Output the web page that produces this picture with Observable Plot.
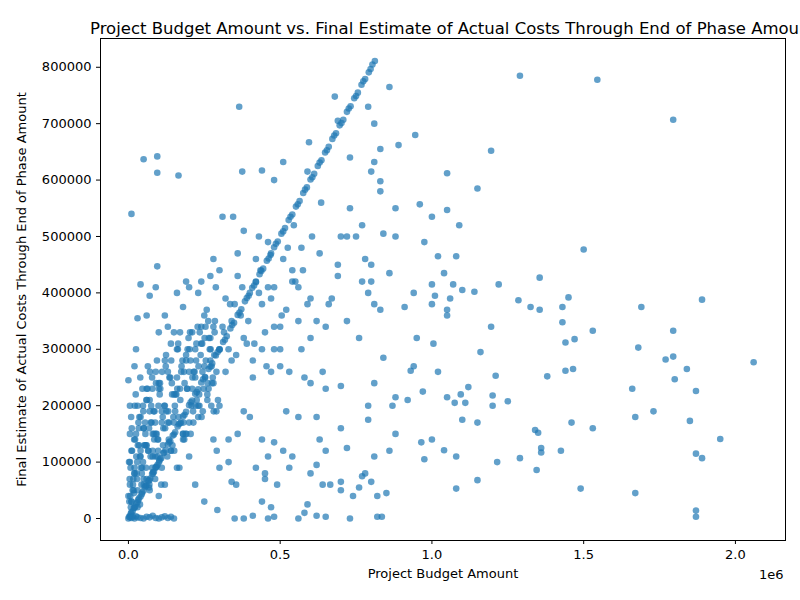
<!DOCTYPE html>
<html>
<head>
<meta charset="utf-8">
<script src="https://cdn.jsdelivr.net/npm/d3@7"></script>
<script src="https://cdn.jsdelivr.net/npm/@observablehq/plot@0.6"></script>
<style>body{margin:0;background:#fff;font-family:"DejaVu Sans";}</style>
</head>
<body>
<div id="chart"></div>
<script>
// values in thousands
var diagBudget = [2,6,10,14,18,22,26,30,35,40,45,50,55,60,66,72,78,84,90,96,102,108,115,122,130,138,146,154,162,170,180,190,200,210,220,230,240,252,264,276,288,300,312,324,336,348,360,372,384,396,408,420,432,444,456,468,480,492,504,516,528,540,552,564,576,588,600,612,624,636,648,660,672,684,696,708,720,732,744,756,768,780,792,804,812,
  8,20,32,44,57,69,81,93,105,118,134,150,166,185,205,225,246,270,294,318,342,366,390,414,438,462,486,510,534,558,582,606,630,654,678,702,726,750,774,798]
var diagActual = [3,5,11,13,19,21,27,29,36,39,46,49,56,59,67,71,79,83,91,95,103,107,116,121,131,137,147,153,163,169,181,189,201,209,221,229,241,251,265,275,289,299,313,323,337,347,361,371,385,395,409,419,433,443,457,467,481,491,505,515,529,539,553,563,577,587,601,611,625,635,649,659,673,683,697,707,721,731,745,755,769,779,791,805,811,
  9,19,33,43,58,68,82,92,106,117,135,149,167,184,206,224,247,269,295,317,343,365,391,413,439,461,487,509,535,557,583,605,631,653,679,701,727,749,775,797]

var spreadBudget = [10,50,95,95,165,365,375,310,345,440,480,510,595,590,680,690,730,790,810,830,860,890,945,960,1000,1050,1050,1090,1150,1195,1290,1545,1795,1500,1355,1220,1285,1325,1355,1450,1430,1430,1530,1470,1440,1680,1690,1795,1890,1840,1795,1770,1660,1800,1730,1870,1850,1950,2060,1890,1870,1870,1870,1670,1670,1530,1490,1460,1465,1440,1380,1360,1360,1340,1350,1345,1425,1290,1215,1160,1120,1110,1095,1075,1080,1080,1150,1150,1210,1200,1200,1250,1195,1140,1100,1080,1070,1050,1040,1020,1000,1010,1000,975,940,950,940,930,970,975,965,1000,1005,1050,1040,1020,1050,1060,1100,880,920,870,880,860,850,820,820,835,880,880,910,860,830,830,840,800,810,770,750,730,780,790,800,800,810,770,760,830,840,810,790,790,810,780,770,800,760,740,730,700,700,720,700,700,690,670,720,700,720,690,660,650,640,650,620,630,650,620,640,620,650,600,590,560,580,600,600,580,570,560,550,540,560,540,530,520,510,490,480,460,470,440,450,420,380,410,350,355,340,330,330,360,380,400,410,440,450,460,480,470,480,500,500,520,440,420,430,460,470,380,360,300,280,270,240,200,180,150,130,120,100,90,95,70,40,30,20,25,0,5,60,160,190,230,
  0,5,10,15,20,25,30,40,50,60,70,80,90,100,110,120,130,140,150,0,5,10,20,30,40,50,60,70,80,90,100,110,120,140,160,180,200,220,250,280,300,
  5,10,20,30,40,50,60,70,80,90,100,110,120,130,140,150,160,170,180,190,200,210,220,230,240,250,260,270,280,290,300,320,340,
  5,15,25,35,45,55,65,75,85,95,105,115,125,135,145,155,165,175,185,195,205,215,225,235,245,255,265,275,285,295,310,330,350,370,390,410,430,450,470,500,530,560,590,620,
  10,20,30,40,50,60,70,80,90,100,110,120,130,140,150,160,170,180,190,200,210,220,230,240,250,260,270,280,290,300,320,340,360,380,400,420,440,460,480,510,540,570,600,630,
  8,18,28,38,48,58,68,78,88,98,108,118,128,138,148,158,168,178,188,198,208,218,228,238,248,258,268,278,288,300,315,335,355,375,395,415,435,455,480,505,525,545,575,605,635,665,
  3,7,12,17,22,27,33,38,43,48,53,58,63,68,73,78,83,88,93,98,103,113,123,133,143,153,163,173,183,193,203,213,223,233,243,253,263,273,283,293,
  2,6,11,16,21,26,31,36,41,46,51,56,61,66,71,76,81,86,91,96,101,111,121,131,141,151,161,171,181,191,201,211,221,231,241,251,261,271,281,291,
  4,9,14,19,24,29,34,39,44,49,54,59,64,69,74,79,84,89,94,99,104,114,124,134,144,154,164,174,184,194,204,214,224,234,244,254,264,274,284,294]
var spreadActual = [540,637,642,613,608,730,615,535,535,617,600,632,667,615,748,705,640,730,700,655,765,662,680,557,535,547,612,520,585,652,785,778,707,477,427,415,387,375,370,392,375,348,333,318,312,303,375,333,388,265,287,282,230,247,190,226,173,141,277,107,115,14,3,45,180,160,53,170,265,262,252,125,117,157,152,86,120,107,100,295,233,205,220,205,110,53,170,68,253,218,200,208,340,402,405,465,415,360,435,465,380,395,415,490,400,320,270,262,225,105,135,140,310,215,121,260,370,390,175,215,210,200,150,120,45,40,3,3,550,500,375,435,580,598,505,615,632,520,500,550,460,400,450,420,380,420,320,370,285,240,200,175,110,80,75,65,55,40,0,235,160,125,50,65,450,390,350,500,500,430,380,340,260,230,180,140,120,95,60,5,3,80,25,0,10,320,240,250,300,350,420,440,180,110,90,190,120,60,3,0,20,30,70,90,0,5,0,60,65,100,140,150,190,180,250,140,80,110,135,260,300,270,340,370,380,420,500,490,470,510,470,440,460,430,420,410,375,330,340,360,330,410,447,395,415,355,270,300,245,200,360,400,420,400,
  0,2,1,3,0,4,2,1,0,3,2,5,1,0,2,4,1,3,0,40,60,30,80,20,110,70,130,50,150,90,40,170,60,120,90,150,110,60,30,140,90,
  150,120,90,200,180,160,230,210,120,260,240,190,280,170,310,220,250,330,150,290,260,230,300,180,340,270,210,320,240,190,300,260,280,
  100,60,150,130,90,170,120,200,140,110,230,160,190,250,130,220,180,270,240,300,150,260,210,330,190,280,320,240,350,210,340,300,380,360,310,280,400,330,390,300,260,410,380,350,
  30,80,50,120,160,70,190,110,150,230,90,200,260,120,170,300,230,140,280,170,330,250,200,310,360,220,280,340,260,300,390,350,430,320,400,460,300,410,340,460,420,480,390,470,
  20,45,70,25,100,130,55,90,170,140,60,200,110,250,180,220,90,280,150,320,200,260,340,290,230,370,300,250,410,200,330,380,290,410,350,310,440,270,410,360,480,520,440,500,560,
  60,30,90,120,50,140,80,170,110,60,200,130,90,230,160,110,250,190,70,150,120,220,180,270,140,240,200,300,170,260,230,330,190,280,220,310,250,350,200,290,
  15,100,40,160,70,200,110,130,180,90,230,60,150,210,120,260,170,80,190,240,140,100,260,160,190,280,120,230,210,170,150,300,250,200,270,180,320,240,300,190,
  120,70,180,50,140,220,100,160,250,80,190,130,210,270,60,170,230,150,110,280,200,240,130,290,170,220,190,310,260,140,230,280,170,310,200,260,340,230,270,330]

var diag = diagBudget.map((b, i) => ({budget: b * 1000, actual: diagActual[i] * 1000}))
var spread = spreadBudget.map((b, i) => ({budget: b * 1000, actual: spreadActual[i] * 1000}))
var all = diag.concat(spread)

var xTicks = [0, 500000, 1000000, 1500000, 2000000]
var yTicks = [0, 100000, 200000, 300000, 400000, 500000, 600000, 700000, 800000]

var chart = Plot.plot({
  width: 800,
  height: 600,
  marginLeft: 100,
  marginRight: 15,
  marginTop: 38,
  marginBottom: 60,
  style: {fontFamily: "DejaVu Sans", fontSize: "13px", background: "#fff"},
  x: {domain: [-92000, 2165000]},
  y: {domain: [-39000, 851000]},
  marks: [
    Plot.frame({stroke: "#000"}),
    Plot.dot(all, {x: "budget", y: "actual", r: 3.3, fill: "#1f77b4", fillOpacity: 0.7, stroke: "none"}),
    Plot.axisX({ticks: xTicks, tickFormat: d => (d / 1e6).toFixed(1), tickSize: 4, label: null, fontSize: 13}),
    Plot.axisY({ticks: yTicks, tickFormat: d => String(d), tickSize: 4, label: null, fontSize: 13}),
    Plot.text(["Project Budget Amount vs. Final Estimate of Actual Costs Through End of Phase Amount"],
      {frameAnchor: "top", dy: -16, dx: 10, fontSize: 16.5, fill: "#000"}),
    Plot.text(["Project Budget Amount"], {frameAnchor: "bottom", dy: 37, fontSize: 13, fill: "#000"}),
    Plot.text(["Final Estimate of Actual Costs Through End of Phase Amount"],
      {frameAnchor: "left", dx: -79, rotate: -90, textAnchor: "middle", fontSize: 13, fill: "#000"}),
    Plot.text(["1e6"], {frameAnchor: "bottom-right", dy: 38, dx: -2, textAnchor: "end", fontSize: 13, fill: "#000"})
  ]
})
document.getElementById("chart").append(chart)
</script>
</body>
</html>
